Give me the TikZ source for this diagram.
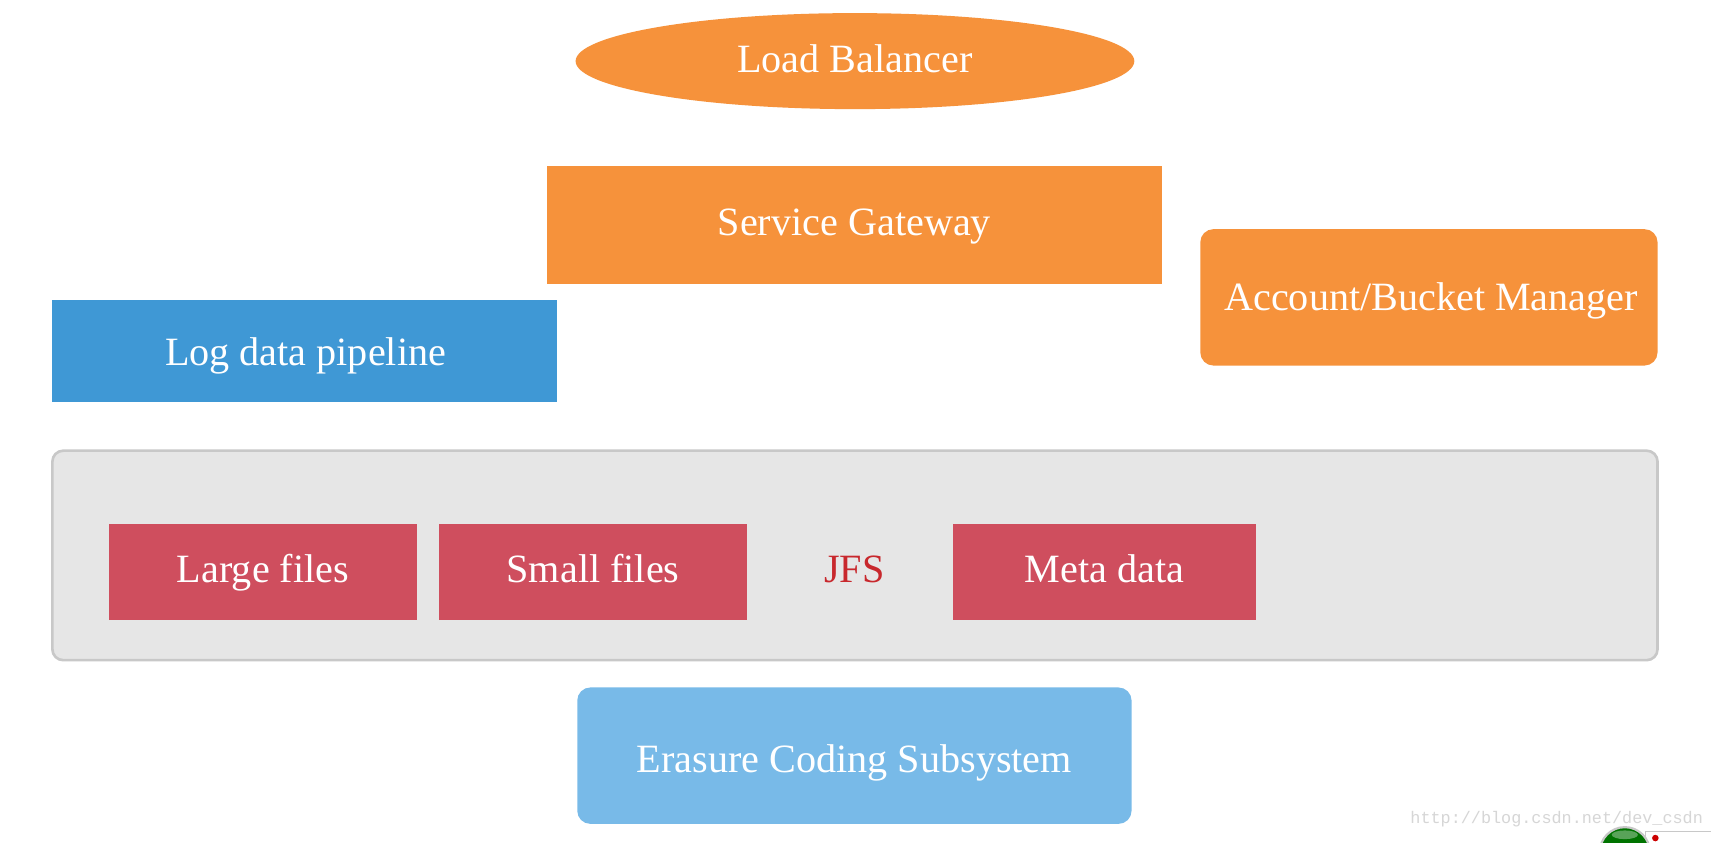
\documentclass[tikz,border=0pt]{standalone}
\usepackage{fontspec}
\setmainfont{Liberation Serif}
\newfontfamily\wmfont{Liberation Mono}
\usetikzlibrary{shapes.geometric}
\definecolor{cOrange}{HTML}{F6923B}
\definecolor{cBlue}{HTML}{3F98D5}
\definecolor{cLight}{HTML}{78BAE8}
\definecolor{cRed}{HTML}{CF4E5E}
\definecolor{cGrayFill}{HTML}{E6E6E6}
\definecolor{cGrayLine}{HTML}{C8C8C8}
\definecolor{cJFS}{HTML}{C8282D}
\definecolor{cWM}{HTML}{D6D6D6}
\tikzset{
  lbl/.style={text=white, font=\fontsize{18.4}{22}\selectfont, inner sep=0pt, anchor=base},
}
\begin{document}
\begin{tikzpicture}[x=0.5pt,y=-0.5pt]
\useasboundingbox (0,0) rectangle (1568,772);
\fill[white] (0,0) rectangle (1568,772);
% Load balancer
\fill[cOrange] (783.5,56) ellipse (128pt and 22pt);
\node[lbl] (lb) at (783.5,66) {Load Balancer};
% Service gateway
\fill[cOrange] (501,152) rectangle (1065,260);
\node[lbl] (sg) at (783,216) {Service Gateway};
% Account/Bucket manager
\fill[cOrange, rounded corners=6pt] (1100,210) rectangle (1519,335);
\node[lbl] (abm) at (1311.5,285) {Account/Bucket Manager};
% Log data pipeline
\fill[cBlue] (48,275) rectangle (510,368);
\node[lbl] (ldp) at (280,335) {Log data pipeline};
% JFS container
\draw[cGrayLine, line width=1.2pt, fill=cGrayFill, rounded corners=5pt] (48,413) rectangle (1519,605);
\fill[cRed] (100,480) rectangle (382,568);
\node[lbl] (lf) at (241,533.5) {Large files};
\fill[cRed] (402,480) rectangle (685,568);
\node[lbl] (sf) at (543.5,533.5) {Small files};
\node[lbl, text=cJFS] (jfs) at (783,533.5) {JFS};
\fill[cRed] (873,480) rectangle (1151,568);
\node[lbl] (md) at (1012,533.5) {Meta data};
% Erasure coding
\fill[cLight, rounded corners=6pt] (529,630) rectangle (1037,755);
\node[lbl] (ec) at (783,708) {Erasure Coding Subsystem};
% watermark
\node[text=cWM, font=\wmfont\fontsize{7.7}{9}\selectfont, inner sep=0pt, anchor=east] (wm) at (1561,751) {http://blog.csdn.net/dev\_csdn};
% corner widget fragment
\begin{scope}
\clip (0,0) rectangle (1568,772);
\fill[white, draw=cGrayLine, line width=0.5pt] (1508,762) rectangle (1575,780);
\fill[red!80!black] (1517,768) circle (1.5pt);
\draw[cGrayLine, line width=1pt, fill=green!45!black] (1489,781) circle (11.5pt);
\fill[white, opacity=0.35] (1489,765) ellipse (6pt and 2pt);
\end{scope}
\end{tikzpicture}
\end{document}
